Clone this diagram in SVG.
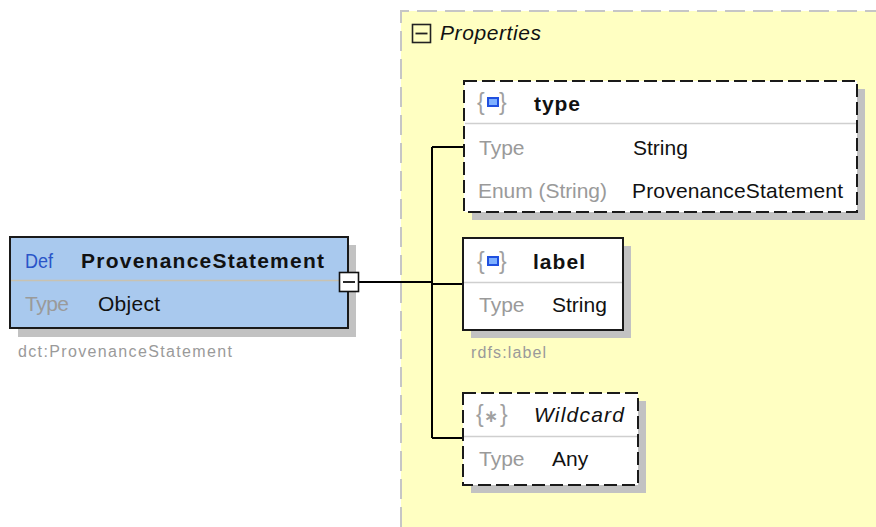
<svg xmlns="http://www.w3.org/2000/svg" width="876" height="527" viewBox="0 0 876 527">
<style>
text{font-family:"Liberation Sans",Arial,sans-serif;font-size:21px;fill:#111}
.lbl{fill:#9a9a9a}
.def{fill:#2a55c8}
.brace{fill:#a0a0a0;font-size:23px}
.bold{font-weight:bold}
.ital{font-style:italic}
.shadow{fill:#c2c2c2}
.box{fill:#fff;stroke:#1a1a1a;stroke-width:2}
.dash{stroke-dasharray:13 5}
.div{stroke:#cfcfcf;stroke-width:1.5}
.note{font-size:16px;fill:#9a9a9a}
.conn{fill:none;stroke:#000;stroke-width:2}
</style>
<rect x="0" y="0" width="876" height="527" fill="#fff"/>
<g id="properties">
<rect x="401" y="11" width="480" height="520" fill="#ffffc2"/>
<path d="M401 527 V11 H876" fill="none" stroke="#c6c6c6" stroke-width="2" stroke-dasharray="20 8"/>
<rect x="412.5" y="24.5" width="18" height="18" fill="none" stroke="#222" stroke-width="1.6"/>
<line x1="415.5" y1="33.5" x2="427.5" y2="33.5" stroke="#222" stroke-width="1.8"/>
<text x="440" y="40" class="ital" textLength="101">Properties</text>
</g>
<g id="connectors">
<path class="conn" d="M359 282 H432"/>
<path class="conn" d="M432 147 V438"/>
<path class="conn" d="M432 147 H464"/>
<path class="conn" d="M432 284 H463"/>
<path class="conn" d="M432 438 H463"/>
</g>
<g id="ProvenanceStatement">
<rect x="18" y="245" width="338" height="92" class="shadow"/>
<rect x="10" y="237" width="338" height="91" fill="#a9c9ee" stroke="#1a1a1a" stroke-width="2"/>
<line x1="11" y1="280.5" x2="347" y2="280.5" stroke="#c9c2b0" stroke-width="1.5"/>
<text x="25" y="268" class="def" font-size="22" textLength="28" lengthAdjust="spacingAndGlyphs">Def</text>
<text x="81" y="268" class="bold" textLength="243">ProvenanceStatement</text>
<text x="25" y="311" class="lbl" textLength="44">Type</text>
<text x="98" y="311" textLength="62">Object</text>
<rect x="339.5" y="272.5" width="19" height="19" fill="#fff" stroke="#111" stroke-width="1.6"/>
<line x1="343" y1="282" x2="355" y2="282" stroke="#111" stroke-width="1.8"/>
<text x="18" y="357" class="note" textLength="214">dct:ProvenanceStatement</text>
</g>
<g id="type">
<rect x="472" y="89" width="393" height="131" class="shadow"/>
<rect x="464" y="81" width="393" height="131" class="box dash"/>
<line x1="465" y1="123.5" x2="856" y2="123.5" class="div"/>
<text x="477" y="110" class="brace">{</text>
<rect x="488" y="98" width="10" height="8" fill="#7eb0ff" stroke="#2050e0" stroke-width="2"/>
<text x="499" y="110" class="brace">}</text>
<text x="534" y="111" class="bold" textLength="46">type</text>
<text x="479" y="155" class="lbl">Type</text>
<text x="633" y="155">String</text>
<text x="478" y="198" class="lbl" textLength="129">Enum (String)</text>
<text x="632" y="198" textLength="211">ProvenanceStatement</text>
</g>
<g id="label">
<rect x="471" y="246" width="160" height="92" class="shadow"/>
<rect x="463" y="238" width="160" height="92" class="box"/>
<line x1="464" y1="282.5" x2="622" y2="282.5" class="div"/>
<text x="477" y="269" class="brace">{</text>
<rect x="488" y="257" width="10" height="8" fill="#7eb0ff" stroke="#2050e0" stroke-width="2"/>
<text x="499" y="269" class="brace">}</text>
<text x="533" y="269" class="bold" textLength="52">label</text>
<text x="479" y="312" class="lbl">Type</text>
<text x="552" y="312">String</text>
<text x="471" y="358" class="note" textLength="75">rdfs:label</text>
</g>
<g id="wildcard">
<rect x="471" y="401" width="175" height="92" class="shadow"/>
<rect x="463" y="393" width="175" height="92" class="box dash"/>
<line x1="464" y1="436.5" x2="637" y2="436.5" class="div"/>
<text x="476" y="422" class="brace">{</text>
<text x="484" y="422" class="brace" style="font-family:'DejaVu Sans',sans-serif;font-size:17px;font-weight:bold">∗</text>
<text x="500" y="422" class="brace">}</text>
<text x="534" y="422" class="ital" textLength="90">Wildcard</text>
<text x="479" y="466" class="lbl">Type</text>
<text x="552" y="466">Any</text>
</g>
</svg>
